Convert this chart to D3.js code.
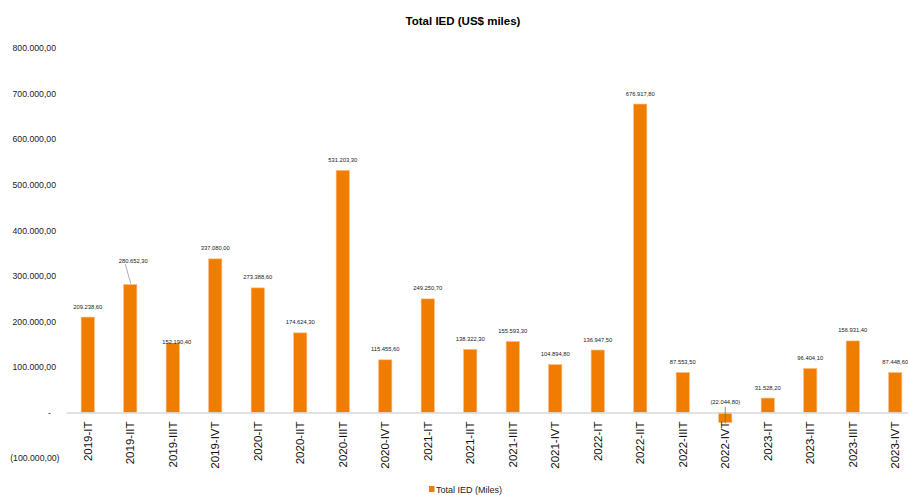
<!DOCTYPE html>
<html><head><meta charset="utf-8">
<script src="https://cdn.jsdelivr.net/npm/d3@7"></script>
<style>
html,body{margin:0;padding:0;background:#fff;overflow:hidden}
text{font-family:"Liberation Sans",Arial,sans-serif}
</style></head>
<body>
<svg id="chart" width="908" height="495"></svg>
<script>
const categories = ["2019-IT","2019-IIT","2019-IIIT","2019-IVT","2020-IT","2020-IIT","2020-IIIT","2020-IVT","2021-IT","2021-IIT","2021-IIIT","2021-IVT","2022-IT","2022-IIT","2022-IIIT","2022-IVT","2023-IT","2023-IIT","2023-IIIT","2023-IVT"];
const values = [209238.6,280652.3,152190.4,337080.0,273388.6,174624.3,531203.3,115455.6,249250.7,138322.3,155593.3,104894.8,136947.5,676917.8,87553.5,-22044.8,31528.2,96404.1,156931.4,87448.6];
const yTicks = [-100000,0,100000,200000,300000,400000,500000,600000,700000,800000];
const title = "Total IED (US$ miles)";
const seriesName = "Total IED (Miles)";

const svg = d3.select("#chart");
const color = "#F07D00";
const loc = d3.formatLocale({decimal:",", thousands:".", grouping:[3], currency:["",""]});
const f2 = loc.format(",.2f");
const fmt = v => v < 0 ? "(" + f2(-v) + ")" : (v === 0 ? "-" : f2(v));

const x = d3.scaleBand().domain(categories).range([66.5, 916.5]).paddingInner(0.69).paddingOuter(0.345);
const y = d3.scaleLinear().domain([-100000, 800000]).range([458, 48]);

// title
svg.append("text").attr("x", 463).attr("y", 25).attr("text-anchor","middle")
  .attr("font-size", 11.5).attr("font-weight","bold").attr("fill","#000").text(title);

// y axis labels (no line)
const yAxis = d3.axisLeft(y).tickValues(yTicks).tickSize(0).tickPadding(0).tickFormat(fmt);
const gy = svg.append("g").attr("transform","translate(56,0)").call(yAxis);
gy.select(".domain").remove();
gy.selectAll("text").attr("font-size", 8.7).attr("fill","#222").attr("font-family","Liberation Sans, Arial, sans-serif")
  .attr("dx", d => d < 0 ? 3.5 : (d === 0 ? -5 : 0));

// bars
svg.append("g").selectAll("rect").data(values).join("rect")
  .attr("x", (d,i) => x(categories[i]))
  .attr("width", x.bandwidth())
  .attr("y", d => y(Math.max(0,d)))
  .attr("height", d => Math.abs(y(d) - y(0)))
  .attr("fill", color).attr("stroke","#F8B77A").attr("stroke-width",0.6);

// zero axis line
svg.append("line").attr("x1", 66.5).attr("x2", 908).attr("y1", y(0)+0.5).attr("y2", y(0)+0.5)
  .attr("stroke","#d9d9d9").attr("stroke-width",1.6);

// x axis labels
const xAxis = d3.axisBottom(x).tickSize(0).tickPadding(0);
const gx = svg.append("g").attr("transform",`translate(0,${y(0)})`).call(xAxis);
gx.select(".domain").remove();
gx.selectAll("text").attr("font-size", 11.5).attr("fill","#111")
  .attr("font-family","Liberation Sans, Arial, sans-serif")
  .attr("transform","rotate(-90)").attr("text-anchor","end")
  .attr("x", -9).attr("y", 0).attr("dy","0.35em");

// data labels
const labelAdj = {1:{dx:3,dy:-13.5,leader:true},2:{dx:4,dy:9},15:{neg:true}};
const lg = svg.append("g");
values.forEach((v,i) => {
  const cx = x(categories[i]) + x.bandwidth()/2;
  const a = labelAdj[i] || {};
  let lx = cx + (a.dx||0), ly;
  if (a.neg) {
    ly = y(0) - 8.2;
    lg.append("line").attr("x1", cx).attr("x2", cx).attr("y1", ly + 2.5).attr("y2", y(v) + 1)
      .attr("stroke","#666").attr("stroke-width",0.7);
  } else {
    ly = y(v) - 8.5 + (a.dy||0);
  }
  if (a.leader) {
    lg.append("line").attr("x1", lx - 8).attr("y1", ly + 1.5).attr("x2", cx + 0.5).attr("y2", y(v) - 1)
      .attr("stroke","#777").attr("stroke-width",0.6);
  }
  lg.append("text").attr("x", lx).attr("y", ly).attr("text-anchor","middle")
    .attr("font-size", 5.8).attr("fill","#222").text(fmt(v));
});

// legend
const leg = svg.append("g").attr("transform","translate(429,486)");
leg.append("rect").attr("x",0).attr("y",0).attr("width",5.5).attr("height",6).attr("fill",color);
leg.append("text").attr("x",7).attr("y",6.5).attr("font-size",9).attr("fill","#222").text(seriesName);
</script>
</body></html>
